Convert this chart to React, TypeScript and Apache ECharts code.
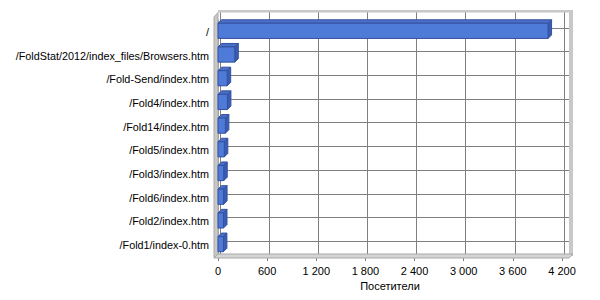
import React, { useEffect, useRef } from "react";
import * as echarts from "echarts";

const categories = [
  "/",
  "/FoldStat/2012/index_files/Browsers.htm",
  "/Fold-Send/index.htm",
  "/Fold4/index.htm",
  "/Fold14/index.htm",
  "/Fold5/index.htm",
  "/Fold3/index.htm",
  "/Fold6/index.htm",
  "/Fold2/index.htm",
  "/Fold1/index-0.htm",
];
const visitors = [4030, 205, 112, 115, 90, 77, 70, 68, 67, 66];
const xTicks = { min: 0, max: 4200, interval: 600 };
const axisTitle = "Посетители";

const FONT = "Liberation Sans";

function fmt(v: number) {
  return String(v).replace(/\B(?=(\d{3})+(?!\d))/g, " ");
}

export default function App() {
  const ref = useRef<HTMLDivElement>(null);
  useEffect(() => {
    if (!ref.current) return;
    const chart = echarts.init(ref.current, undefined, { renderer: "svg" });
    const depth = 3.5;
    const option: any = {
      animation: false,
      backgroundColor: "#ffffff",
      textStyle: { fontFamily: FONT },
      grid: [
        { left: 218, right: 38, top: 20, bottom: 43 },
        { left: 220, right: 36, top: 12, bottom: 46 },
        { left: 220, right: 31, top: 27.85, bottom: 58.85 },
      ],
      xAxis: [
        {
          gridIndex: 0,
          type: "value",
          min: xTicks.min,
          max: xTicks.max,
          interval: xTicks.interval,
          name: axisTitle,
          nameLocation: "middle",
          nameGap: 20,
          nameTextStyle: { color: "#000", fontSize: 11, fontFamily: FONT },
          axisLine: { show: false },
          axisTick: { show: true, length: 4, lineStyle: { color: "#808080" } },
          axisLabel: {
            color: "#000",
            fontSize: 11,
            fontFamily: FONT,
            margin: 8,
            formatter: (v: number) => fmt(v),
          },
          splitLine: { show: false },
        },
        {
          gridIndex: 1,
          type: "value",
          min: xTicks.min,
          max: xTicks.max,
          interval: xTicks.interval,
          axisLine: { show: false },
          axisTick: { show: false },
          axisLabel: { show: false },
          splitLine: { show: true, lineStyle: { color: "#808080", width: 1 } },
        },
        {
          gridIndex: 2,
          type: "value",
          min: 0,
          max: 1,
          axisLine: { show: false },
          axisTick: { show: false },
          axisLabel: { show: false },
          splitLine: { show: false },
        },
      ],
      yAxis: [
        {
          gridIndex: 0,
          type: "category",
          data: categories,
          inverse: true,
          offset: 4,
          axisLine: { show: true, lineStyle: { color: "#a0a0a0" } },
          axisTick: {
            show: true,
            alignWithLabel: true,
            length: 4,
            lineStyle: { color: "#808080" },
          },
          axisLabel: { color: "#000", fontSize: 10.8, fontFamily: FONT, margin: 5 },
          splitLine: { show: false },
        },
        {
          gridIndex: 1,
          type: "value",
          min: 0,
          max: 1,
          axisLine: { show: false },
          axisTick: { show: false },
          axisLabel: { show: false },
          splitLine: { show: false },
        },
        {
          gridIndex: 2,
          type: "value",
          min: 0,
          max: 9,
          interval: 1,
          inverse: true,
          axisLine: { show: false },
          axisTick: { show: false },
          axisLabel: { show: false },
          splitLine: { show: true, lineStyle: { color: "#808080", width: 1 } },
        },
      ],
      graphic: {
        elements: [
          {
            type: "rect",
            shape: { x: 218, y: 10, width: 355, height: 2.5 },
            style: { fill: "#c8c8c8" },
            z: 1,
          },
          {
            type: "rect",
            shape: { x: 569, y: 10, width: 4, height: 246 },
            style: { fill: "#c8c8c8" },
            z: 1,
          },
          {
            type: "polygon",
            shape: {
              points: [
                [214, 17],
                [218, 12.5],
                [218, 254],
                [214, 258],
              ],
            },
            style: { fill: "#c8c8c8", stroke: "#a8a8a8", lineWidth: 1 },
            z: 10,
          },
          {
            type: "polygon",
            shape: {
              points: [
                [214, 258],
                [218, 254],
                [573, 254],
                [569, 258],
              ],
            },
            style: { fill: "#d4d4d4", stroke: "#a8a8a8", lineWidth: 1 },
            z: 10,
          },
        ],
      },
      series: [
        {
          type: "custom",
          xAxisIndex: 0,
          yAxisIndex: 0,
          z: 20,
          data: visitors.map((v, i) => [v, i]),
          encode: { x: 0, y: 1 },
          renderItem: (params: any, api: any) => {
            const v = api.value(0);
            const c = api.value(1);
            const end = api.coord([v, c]);
            const start = api.coord([0, c]);
            const band = api.size([0, 1])[1];
            const h = band * 0.64;
            const cy = end[1] - 1;
            const x0 = start[0];
            const x1 = end[0];
            const y0 = cy - h / 2;
            const y1 = cy + h / 2;
            const d = depth;
            const stroke = "#34519f";
            return {
              type: "group",
              children: [
                {
                  type: "polygon",
                  shape: {
                    points: [
                      [x0, y0],
                      [x0 + d, y0 - d],
                      [x1 + d, y0 - d],
                      [x1, y0],
                    ],
                  },
                  style: { fill: "#4a6fc8", stroke, lineWidth: 1 },
                },
                {
                  type: "polygon",
                  shape: {
                    points: [
                      [x1, y0],
                      [x1 + d, y0 - d],
                      [x1 + d, y1 - d],
                      [x1, y1],
                    ],
                  },
                  style: { fill: "#3a5cb4", stroke, lineWidth: 1 },
                },
                {
                  type: "rect",
                  shape: { x: x0, y: y0, width: x1 - x0, height: y1 - y0 },
                  style: { fill: "#4f7bd8", stroke, lineWidth: 1 },
                },
              ],
            };
          },
        },
      ],
    };
    chart.setOption(option);
    return () => chart.dispose();
  }, []);
  return (
    <div
      ref={ref}
      style={{ position: "fixed", left: 0, top: 0, width: 600, height: 300 }}
    />
  );
}
